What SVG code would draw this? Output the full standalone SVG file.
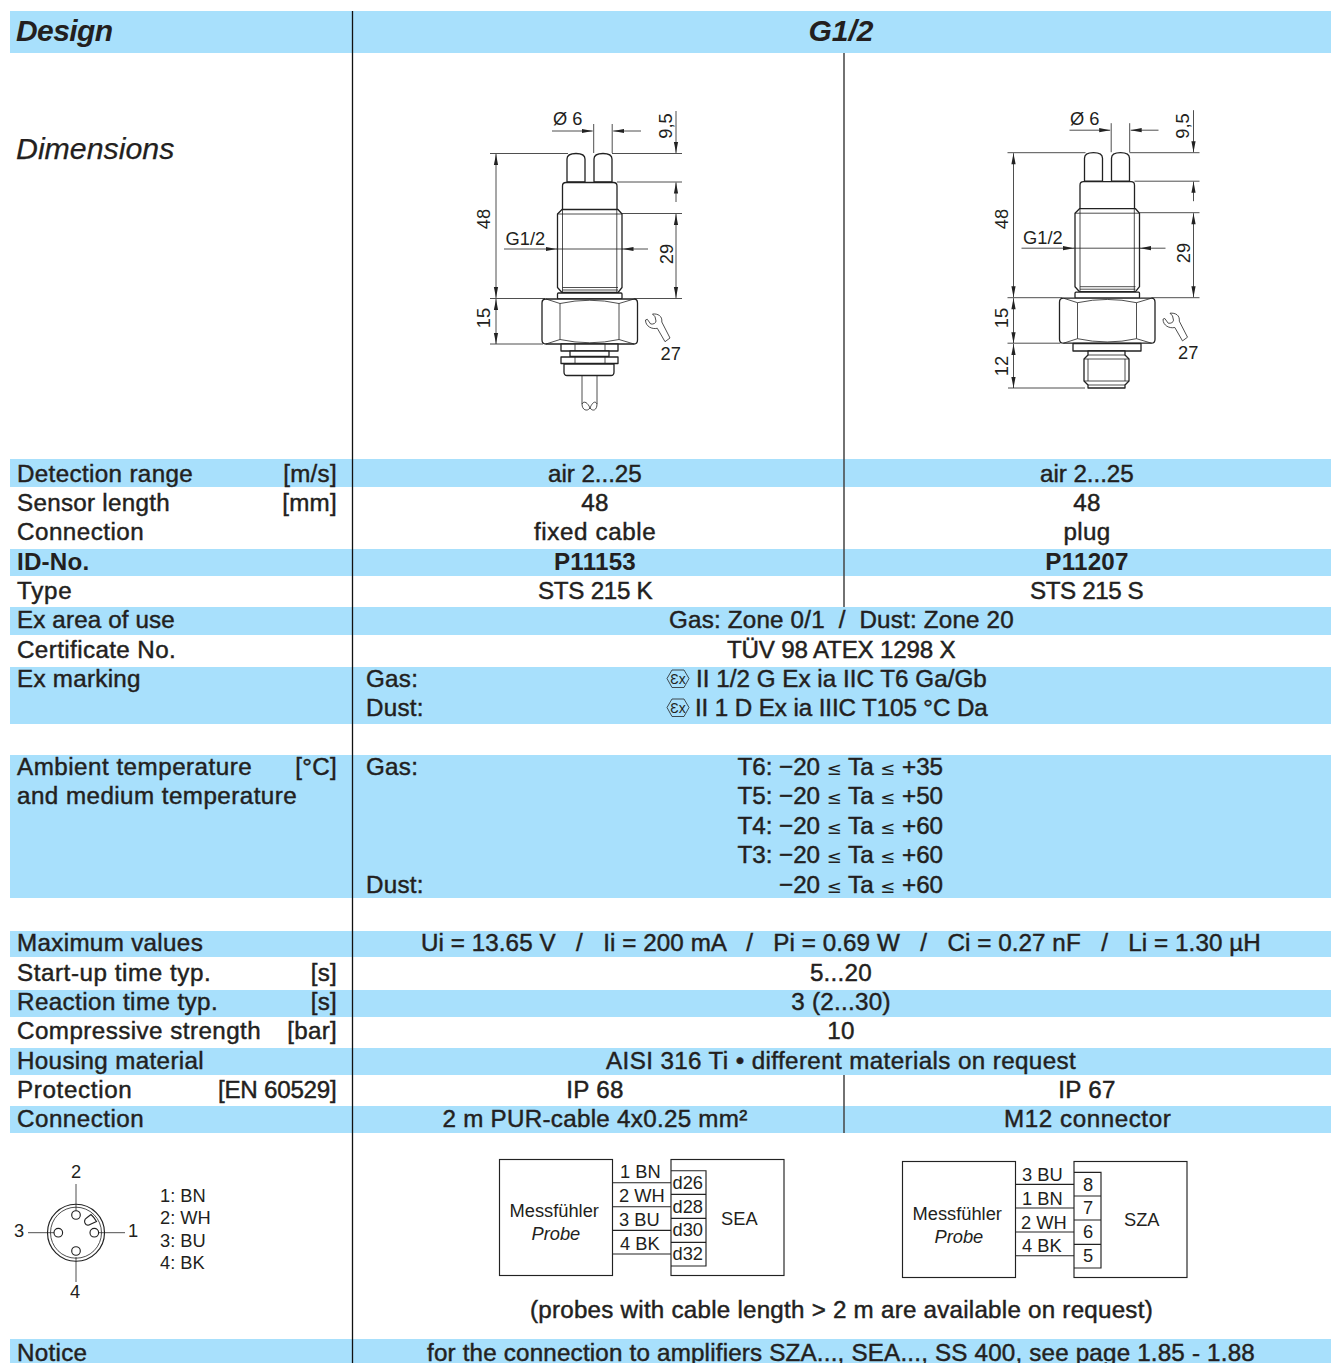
<svg xmlns="http://www.w3.org/2000/svg" xmlns:xlink="http://www.w3.org/1999/xlink" width="1331" height="1363" viewBox="0 0 1331 1363">
<style>
text{font-family:"Liberation Sans",Arial,sans-serif;fill:#231f20}
.t{font-size:24.2px;letter-spacing:.28px;stroke:#231f20;stroke-width:.45px}
.b{font-size:24.2px;font-weight:bold;letter-spacing:.2px}
.h{font-size:30px;font-weight:bold;font-style:italic}
.i{font-size:30.3px;font-style:italic;stroke:#231f20;stroke-width:.25px}
.c{text-anchor:middle}
.r{text-anchor:end}
.s{font-size:18.3px}
.it{font-style:italic}
.le{font-family:"DejaVu Sans",sans-serif;stroke:none;font-size:18px;font-weight:normal}
.tg{letter-spacing:-.02px}
.band{fill:#a8e0fc}
.rule{stroke:#111;stroke-width:1.3;fill:none}
.thin{stroke:#444;stroke-width:1.5;fill:none}
.o{stroke:#222;stroke-width:1.3;fill:#fff;stroke-linejoin:round}
.l{stroke:#222;stroke-width:.8;fill:none}
.dim{stroke:#222;stroke-width:.8;fill:none;marker-end:url(#a)}
.dim2{stroke:#222;stroke-width:.8;fill:none;marker-start:url(#as);marker-end:url(#a)}
.box{stroke:#222;stroke-width:1.15;fill:none}
.pin{stroke:#222;stroke-width:1.15;fill:#fff}
</style>
<defs>
<marker id="a" markerUnits="userSpaceOnUse" markerWidth="12" markerHeight="6" refX="11" refY="3" orient="auto"><path d="M0 .9L11 3L0 5.100z" fill="#222"/></marker>
<marker id="as" markerUnits="userSpaceOnUse" markerWidth="12" markerHeight="6" refX="0" refY="3" orient="auto"><path d="M11 .9L0 3L11 5.100z" fill="#222"/></marker>
<g id="upper">
<path class="o" d="M567 182V159Q567 153.500 576 153.500Q585 153.500 585 159V182z"/>
<path class="o" d="M594 182V159Q594 153.500 603 153.500Q612 153.500 612 159V182z"/>
<path class="o" d="M562.500 210V186Q562.500 182.500 566 182.500H613.500Q617 182.500 617 186V210z"/>
<path class="o" d="M557.500 214L562 209.500H618L622 214V287.500L618 292.500H562L557.500 287.500z"/>
<path class="l" d="M562.500 209.500V292M616.800 209.500V292M557.500 214H622M562.500 287.500H618M562.500 290H618"/>
<rect class="o" x="557.500" y="293" width="64.500" height="6" rx="1"/>
<path class="o" d="M546 299H634Q637.500 299 637.500 303V340Q637.500 344 634 344H546Q542 344 542 340V303Q542 299 546 299z"/>
<path class="l" d="M560 303.500Q590 297 619 303.500M560 339.500Q590 346 619 339.500M560 303.500V339.500M619 303.500V339.500M546 299L560 303.500M634 299L619 303.500M546 344L560 339.500M634 344L619 339.500"/>
<path class="l" d="M556 249H623"/>
<path class="l" d="M490 153.500H568M612 153.500H682M617 182H682M622 213.500H682M490 298.500H545M634 298.500H682M490 344H543"/>
<path class="l" d="M593.700 124V153M612.200 124V153"/>
<path class="dim" d="M552 131H592.700"/>
<path class="dim" d="M641 131H613.200"/>
<path class="dim" d="M676 111V153"/>
<path class="dim" d="M676 202V182.500"/>
<path class="dim2" d="M676 214V298"/>
<path class="dim2" d="M496 154V298"/>
<path class="dim2" d="M496 299V344"/>
<path class="dim" d="M504 249H556.500"/>
<path class="dim" d="M648 249H622.500"/>
<path class="l" stroke-width="1" d="M652.500 314C658 313.500 662.500 316 661.800 322L670 338L665 341.700L657.300 328.300C652 329.500 645.500 326.500 645.500 320L647.300 319.300L650.700 324C653.500 324.500 656 323 656 321L655 316.700z"/>
</g>
</defs>

<g id="bands">
<rect class="band" x="10" y="11" width="1321" height="42"/>
<rect class="band" x="10" y="459" width="1321" height="28"/>
<rect class="band" x="10" y="549" width="1321" height="27"/>
<rect class="band" x="10" y="607" width="1321" height="28"/>
<rect class="band" x="10" y="667" width="1321" height="57"/>
<rect class="band" x="10" y="755" width="1321" height="143"/>
<rect class="band" x="10" y="931" width="1321" height="26"/>
<rect class="band" x="10" y="990" width="1321" height="27"/>
<rect class="band" x="10" y="1048" width="1321" height="27"/>
<rect class="band" x="10" y="1106" width="1321" height="27"/>
<rect class="band" x="10" y="1339" width="1321" height="24"/>
</g>
<g id="rules">
<path class="rule" d="M352.500 11V1363"/>
<path class="thin" d="M844 53V607M844 1075V1133"/>
</g>

<g id="labels-left">
<text class="h" x="16" y="41" textLength="97">Design</text>
<text class="i" x="16" y="159">Dimensions</text>
<text class="t" x="17" y="482" textLength="176">Detection range</text><text class="t r" x="337" y="482">[m/s]</text>
<text class="t" x="17" y="511">Sensor length</text><text class="t r" x="337" y="511">[mm]</text>
<text class="t" x="17" y="540" textLength="127">Connection</text>
<text class="b" x="17" y="570">ID-No.</text>
<text class="t" x="17" y="599" textLength="55">Type</text>
<text class="t" x="17" y="628" textLength="158">Ex area of use</text>
<text class="t" x="17" y="658" textLength="159">Certificate No.</text>
<text class="t" x="17" y="687">Ex marking</text>
<text class="t" x="17" y="775" textLength="235">Ambient temperature</text><text class="t r" x="337" y="775">[°C]</text>
<text class="t" x="17" y="804" textLength="280">and medium temperature</text>
<text class="t" x="17" y="951" textLength="186">Maximum values</text>
<text class="t" x="17" y="981" textLength="194">Start-up time typ.</text><text class="t r" x="337" y="981">[s]</text>
<text class="t" x="17" y="1010" textLength="201">Reaction time typ.</text><text class="t r" x="337" y="1010">[s]</text>
<text class="t" x="17" y="1039" textLength="244">Compressive strength</text><text class="t r" x="337" y="1039">[bar]</text>
<text class="t" x="17" y="1069" textLength="187">Housing material</text>
<text class="t" x="17" y="1098" textLength="115">Protection</text><text class="t" x="218" y="1098" textLength="119">[EN 60529]</text>
<text class="t" x="17" y="1127" textLength="127">Connection</text>
<text class="t" x="17" y="1361">Notice</text>
</g>

<g id="values">
<text class="h c" x="841" y="41">G1/2</text>
<text class="t" x="548" y="482" textLength="94">air 2...25</text><text class="t" x="1040" y="482" textLength="94">air 2...25</text>
<text class="t c" x="595" y="511">48</text><text class="t c" x="1087" y="511">48</text>
<text class="t" x="534" y="540" textLength="122">fixed cable</text><text class="t c" x="1087" y="540">plug</text>
<text class="b c" x="595" y="570">P11153</text><text class="b c" x="1087" y="570">P11207</text>
<text class="t" x="538" y="599" textLength="115">STS 215 K</text><text class="t" x="1030" y="599" textLength="114">STS 215 S</text>
<text class="t" x="669" y="628" xml:space="preserve" textLength="345">Gas: Zone 0/1  /  Dust: Zone 20</text>
<text class="t" x="727" y="658" textLength="229">TÜV 98 ATEX 1298 X</text>
<text class="t" x="366" y="687">Gas:</text>
<text class="t" x="366" y="716">Dust:</text>
<path class="l" d="M667 678.500L672 670H684L689 678.500L684 687.500H672zM667 707.500L672 699H684L689 707.500L684 716.500H672z"/>
<text x="678" y="683.500" font-size="14" class="c">Ɛx</text>
<text x="678" y="712.500" font-size="14" class="c">Ɛx</text>
<text class="t" x="696" y="687" textLength="291">II 1/2 G Ex ia IIC T6 Ga/Gb</text>
<text class="t" x="695" y="716" textLength="293">II 1 D Ex ia IIIC T105 °C Da</text>
<text class="t" x="366" y="775">Gas:</text>
<text class="t" x="366" y="893">Dust:</text>
<text class="t r tg" x="943" y="775">T6: −20 <tspan class="le">≤</tspan> Ta <tspan class="le">≤</tspan> +35</text>
<text class="t r tg" x="943" y="804">T5: −20 <tspan class="le">≤</tspan> Ta <tspan class="le">≤</tspan> +50</text>
<text class="t r tg" x="943" y="834">T4: −20 <tspan class="le">≤</tspan> Ta <tspan class="le">≤</tspan> +60</text>
<text class="t r tg" x="943" y="863">T3: −20 <tspan class="le">≤</tspan> Ta <tspan class="le">≤</tspan> +60</text>
<text class="t r tg" x="943" y="893">−20 <tspan class="le">≤</tspan> Ta <tspan class="le">≤</tspan> +60</text>
<text class="t" x="421" y="951" xml:space="preserve" textLength="840">Ui = 13.65 V   /   Ii = 200 mA   /   Pi = 0.69 W   /   Ci = 0.27 nF   /   Li = 1.30 µH</text>
<text class="t c" x="841" y="981">5...20</text>
<text class="t c" x="841" y="1010">3 (2...30)</text>
<text class="t c" x="841" y="1039">10</text>
<text class="t" x="606" y="1069" textLength="470">AISI 316 Ti • different materials on request</text>
<text class="t c" x="595" y="1098">IP 68</text><text class="t c" x="1087" y="1098">IP 67</text>
<text class="t c" x="595" y="1127">2 m PUR-cable 4x0.25 mm²</text><text class="t" x="1004" y="1127" textLength="167">M12 connector</text>
<text class="t" x="530" y="1318" textLength="623">(probes with cable length &gt; 2 m are available on request)</text>
<text class="t" x="427" y="1361" textLength="828">for the connection to amplifiers SZA..., SEA..., SS 400, see page 1.85 - 1.88</text>
</g>

<g id="drawing-cable">
<use xlink:href="#upper" href="#upper"/>
<rect class="o" x="561" y="344" width="57" height="7"/>
<rect class="o" x="570" y="351" width="39" height="5.500"/>
<rect class="o" x="561" y="357" width="57" height="6.500"/>
<path class="l" d="M575 344V351M605 344V351M575 357V363.500M605 357V363.500"/>
<path class="o" d="M564 364H614V372Q614 375.500 611 375.500H567Q564 375.500 564 372z"/>
<path class="l" stroke-width="1.2" d="M582 376V404M597 376V404"/>
<path class="l" stroke-width="1.2" d="M582 404C582 410 587 412 590 408C593 412 597 410 597 404C595 400 592 403 590 408C588 403 584 400 582 404z"/>
<text class="s" x="553" y="125">Ø 6</text>
<text class="s" transform="translate(671.500 126) rotate(-90)" text-anchor="middle">9,5</text>
<text class="s" transform="translate(672.500 254) rotate(-90)" text-anchor="middle">29</text>
<text class="s" transform="translate(490 219) rotate(-90)" text-anchor="middle">48</text>
<text class="s" transform="translate(490 318) rotate(-90)" text-anchor="middle">15</text>
<text class="s" x="505.500" y="245">G1/2</text>
<text class="s" x="660.500" y="360">27</text>
</g>

<g id="drawing-plug">
<use xlink:href="#upper" href="#upper" transform="translate(517.500 -.8)"/>
<rect class="o" x="1073" y="343.500" width="68" height="7.500"/>
<path class="o" d="M1088 351V355L1084 359V381L1088 385V388H1125V385L1129 381V359L1125 355V351z"/>
<path class="l" d="M1088 355H1125M1088 359V381M1125 359V381M1084 359H1129M1084 381H1129M1088 385H1125"/>
<path class="l" d="M1008 388H1085"/>
<path class="dim2" d="M1013.500 344V388"/>
<text class="s" x="1070" y="125">Ø 6</text>
<text class="s" transform="translate(1189 126) rotate(-90)" text-anchor="middle">9,5</text>
<text class="s" transform="translate(1190 253) rotate(-90)" text-anchor="middle">29</text>
<text class="s" transform="translate(1007.500 219) rotate(-90)" text-anchor="middle">48</text>
<text class="s" transform="translate(1007.500 318) rotate(-90)" text-anchor="middle">15</text>
<text class="s" transform="translate(1007.500 366) rotate(-90)" text-anchor="middle">12</text>
<text class="s" x="1023" y="244">G1/2</text>
<text class="s" x="1178" y="359">27</text>
</g>

<g id="pinout">
<circle cx="76" cy="1232.700" r="28.500" class="box"/>
<circle cx="76" cy="1232.700" r="25.500" class="l"/>
<path class="l" d="M76 1184V1211M97 1232.700H125M28 1232.700H55M76 1257V1282"/>
<circle cx="76" cy="1215" r="4.300" class="pin"/>
<circle cx="94.300" cy="1232.700" r="4.300" class="pin"/>
<circle cx="58.300" cy="1232.700" r="4.300" class="pin"/>
<circle cx="76" cy="1251" r="4.300" class="pin"/>
<path class="box" d="M86 1224.500A4 4 0 0 1 86.500 1218L91 1214.500A26 26 0 0 1 96.500 1221.500L90 1224.500A3.500 3.500 0 0 1 86 1224.500z"/>
<text class="s c" x="76" y="1178">2</text>
<text class="s" x="14" y="1236.700">3</text>
<text class="s" x="128" y="1236.700">1</text>
<text class="s c" x="75" y="1298">4</text>
<text class="s" x="160" y="1201.700">1: BN</text>
<text class="s" x="160" y="1224">2: WH</text>
<text class="s" x="160" y="1246.700">3: BU</text>
<text class="s" x="160" y="1269">4: BK</text>
</g>

<g id="wiring-sea">
<rect class="box" x="499.500" y="1159.500" width="113" height="116"/>
<rect class="box" x="671" y="1159.500" width="113" height="116"/>
<path class="box" d="M612 1182.700H671M612 1206.700H671M612 1230.300H671M612 1254H671"/>
<path class="box" d="M671 1170.700H706V1266H671M671 1194.300H706M671 1218.300H706M671 1242.300H706"/>
<text class="s" x="620" y="1178">1 BN</text>
<text class="s" x="619" y="1202">2 WH</text>
<text class="s" x="619" y="1226">3 BU</text>
<text class="s" x="620" y="1250">4 BK</text>
<text class="s" x="672.500" y="1189">d26</text>
<text class="s" x="672.500" y="1213">d28</text>
<text class="s" x="672.500" y="1236">d30</text>
<text class="s" x="672.500" y="1260">d32</text>
<text class="s" x="509.500" y="1217">Messfühler</text>
<text class="s it" x="531.500" y="1240">Probe</text>
<text class="s" x="721" y="1225">SEA</text>
</g>

<g id="wiring-sza">
<rect class="box" x="902.500" y="1161.500" width="113" height="116"/>
<rect class="box" x="1074" y="1161.500" width="113" height="116"/>
<path class="box" d="M1015 1184.300H1074M1015 1208H1074M1015 1232H1074M1015 1255.700H1074"/>
<path class="box" d="M1074 1172.300H1101V1268H1074M1074 1196H1101M1074 1220H1101M1074 1244.300H1101"/>
<text class="s" x="1022" y="1181">3 BU</text>
<text class="s" x="1022" y="1205">1 BN</text>
<text class="s" x="1021" y="1229">2 WH</text>
<text class="s" x="1022" y="1252">4 BK</text>
<text class="s c" x="1088" y="1191">8</text>
<text class="s c" x="1088" y="1214">7</text>
<text class="s c" x="1088" y="1238">6</text>
<text class="s c" x="1088" y="1262">5</text>
<text class="s" x="912.500" y="1220">Messfühler</text>
<text class="s it" x="934.500" y="1243">Probe</text>
<text class="s" x="1124" y="1226">SZA</text>
</g>
</svg>
